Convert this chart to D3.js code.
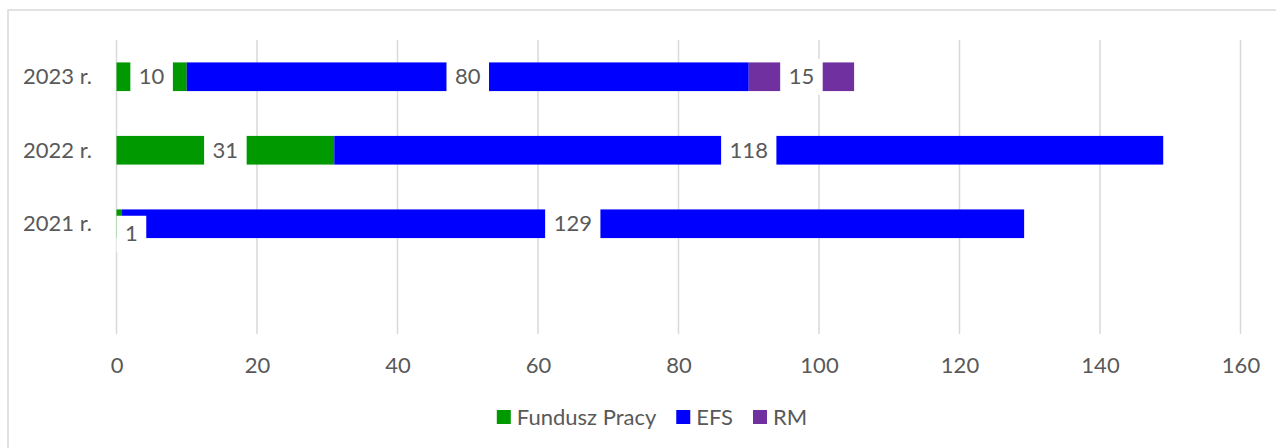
<!DOCTYPE html>
<html>
<head>
<meta charset="utf-8">
<script src="https://cdn.jsdelivr.net/npm/d3@7"></script>
<style>
  html, body { margin: 0; padding: 0; background: #fff; }
  svg { display: block; }
  text { font-family: Lato, "Liberation Sans", sans-serif; fill: #595959; }
</style>
</head>
<body>
<svg id="chart" width="1276" height="448"></svg>
<script>
// ---- data ----
const categories = ["2023 r.", "2022 r.", "2021 r.", ""];
const funduszPracy = [10, 31, 0.7, null];
const efs = [80, 118, 128.5, null];
const rm = [15, 0, 0, null];
const seriesNames = ["Fundusz Pracy", "EFS", "RM"];
const seriesColors = ["#009900", "#0000FF", "#7030A0"];
const xTicks = [0, 20, 40, 60, 80, 100, 120, 140, 160];

const svg = d3.select("#chart");
const W = 1276, H = 448;
const plot = { left: 116.5, right: 1240.5, top: 40, bottom: 334 };
const fontSize = 22;

// border
svg.append("rect").attr("x", 8).attr("y", 10).attr("width", W + 20).attr("height", H + 20)
  .attr("fill", "#fff").attr("stroke", "#d9d9d9").attr("stroke-width", 1.5);

const x = d3.scaleLinear().domain([0, 160]).range([plot.left, plot.right]);
const y = d3.scaleBand().domain(categories).range([plot.top, plot.bottom]).paddingInner(0.61).paddingOuter(0.305);

// gridlines
svg.append("g").selectAll("line").data(xTicks).join("line")
  .attr("x1", d => x(d)).attr("x2", d => x(d))
  .attr("y1", plot.top).attr("y2", plot.bottom)
  .attr("stroke", "#d9d9d9").attr("stroke-width", 1.5);

// x axis labels
const xAxis = d3.axisBottom(x).tickValues(xTicks).tickSize(0).tickPadding(0);
const gx = svg.append("g").attr("transform", `translate(0,${plot.bottom})`).call(xAxis);
gx.select(".domain").remove();
gx.selectAll("text").attr("dy", "0.35em").attr("y", 31).attr("font-size", fontSize)
  .attr("font-family", null).attr("fill", "#595959");

// y axis labels
const yAxis = d3.axisLeft(y).tickSize(0).tickPadding(0);
const gy = svg.append("g").attr("transform", `translate(92,0)`).call(yAxis);
gy.select(".domain").remove();
gy.selectAll("text").attr("font-size", fontSize).attr("font-family", null).attr("fill", "#595959").attr("dy", "0.35em");

// stacked data
const rows = categories.map((c, i) => ({ cat: c, v: [funduszPracy[i], efs[i], rm[i]] }));
const segs = [];
rows.forEach(r => {
  let acc = 0;
  r.v.forEach((v, k) => {
    if (v == null || v === 0) return;
    segs.push({ cat: r.cat, k, x0: acc, x1: acc + v, v });
    acc += v;
  });
});

svg.append("g").selectAll("rect").data(segs).join("rect")
  .attr("x", d => x(d.x0)).attr("width", d => x(d.x1) - x(d.x0))
  .attr("y", d => y(d.cat)).attr("height", y.bandwidth())
  .attr("fill", d => seriesColors[d.k]);

// labels with white boxes
const lg = svg.append("g");
segs.forEach(d => {
  const small = (x(d.x1) - x(d.x0)) < 15;
  const cy = y(d.cat) + y.bandwidth() / 2;
  const g = lg.append("g");
  const label = String(Math.round(d.v));
  const t = g.append("text").text(label).attr("font-size", fontSize).attr("text-anchor", "middle")
    .attr("dy", "0.35em");
  const tw = t.node().getComputedTextLength();
  const bw = tw + 17, bh = 36;
  let cx = (x(d.x0) + x(d.x1)) / 2;
  let ty = cy;
  if (small) { cx = x(0) + bw / 2; ty = cy + 10; }
  t.attr("x", cx).attr("y", ty);
  g.insert("rect", "text").attr("x", cx - bw / 2).attr("y", ty - bh / 2)
    .attr("width", bw).attr("height", bh).attr("fill", "#fff");
});

// legend
const leg = svg.append("g");
const legY = 417;
const items = seriesNames.map((n, i) => {
  const t = leg.append("text").text(n).attr("font-size", fontSize).attr("dy", "0.35em").attr("y", legY);
  return { t, w: t.node().getComputedTextLength(), i };
});
const sq = 14, gap1 = 6, gap2 = 20;
const total = d3.sum(items, d => sq + gap1 + d.w) + gap2 * (items.length - 1);
let lx = 652 - total / 2;
items.forEach(d => {
  leg.append("rect").attr("x", lx).attr("y", legY - sq / 2).attr("width", sq).attr("height", sq)
    .attr("fill", seriesColors[d.i]);
  d.t.attr("x", lx + sq + gap1);
  lx += sq + gap1 + d.w + gap2;
});
</script>
</body>
</html>
